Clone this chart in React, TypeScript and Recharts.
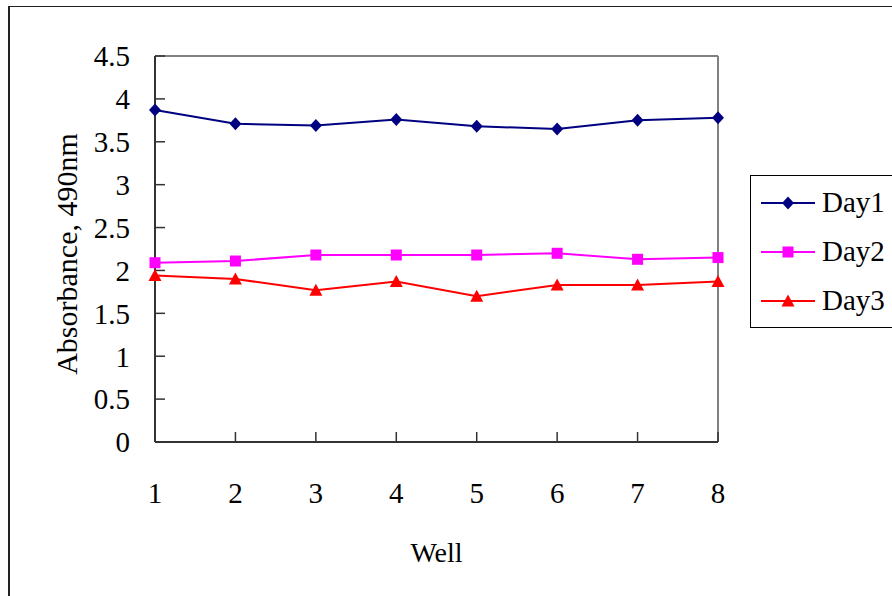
import { LineChart, Line, XAxis, YAxis, Legend, ReferenceLine, Label } from "recharts"

const wells = ["1", "2", "3", "4", "5", "6", "7", "8"]
const day1 = [3.87, 3.71, 3.69, 3.76, 3.68, 3.65, 3.75, 3.78]
const day2 = [2.09, 2.11, 2.18, 2.18, 2.18, 2.2, 2.13, 2.15]
const day3 = [1.94, 1.9, 1.77, 1.87, 1.7, 1.83, 1.83, 1.87]
const yTicks = [0, 0.5, 1, 1.5, 2, 2.5, 3, 3.5, 4, 4.5]

const FONT = '"Liberation Serif", "Times New Roman", serif'

const series = [
  { key: "day1", name: "Day1", color: "#000080", shape: "diamond" },
  { key: "day2", name: "Day2", color: "#ff00ff", shape: "square" },
  { key: "day3", name: "Day3", color: "#ff0000", shape: "triangle" },
]

const data = wells.map((well, i) => ({ well, day1: day1[i], day2: day2[i], day3: day3[i] }))

function Marker({ cx, cy, shape, color }: { cx?: number; cy?: number; shape: string; color: string }) {
  if (cx == null || cy == null) return null
  if (shape === "diamond") {
    return <polygon points={`${cx},${cy - 6.5} ${cx + 6},${cy} ${cx},${cy + 6.5} ${cx - 6},${cy}`} fill={color} />
  }
  if (shape === "square") {
    return <rect x={cx - 5.5} y={cy - 5.5} width={11} height={11} fill={color} />
  }
  return <polygon points={`${cx},${cy - 6.5} ${cx + 6.5},${cy + 5.5} ${cx - 6.5},${cy + 5.5}`} fill={color} />
}

function LegendBox() {
  return (
    <div style={{ border: "1.5px solid #000", padding: "2px 0 2px 10px", background: "#fff" }}>
      {series.map((s) => (
        <div key={s.key} style={{ display: "flex", alignItems: "center", height: 49 }}>
          <svg width={54} height={20} style={{ display: "block" }}>
            <line x1={0} y1={10} x2={54} y2={10} stroke={s.color} strokeWidth={2} />
            <Marker cx={27} cy={10} shape={s.shape} color={s.color} />
          </svg>
          <span style={{ marginLeft: 7, fontSize: 29, fontFamily: FONT, color: "#000", lineHeight: 1 }}>{s.name}</span>
        </div>
      ))}
    </div>
  )
}

export default function App() {
  return (
    <div style={{ position: "absolute", left: 0, top: 0, width: 892, height: 596, overflow: "hidden", background: "#fff" }}>
      <div
        style={{
          position: "absolute",
          left: 8,
          top: 6,
          width: 900,
          height: 600,
          borderLeft: "2px solid #222",
          borderTop: "1.5px solid #222",
        }}
      />
      <div style={{ position: "absolute", left: 0, top: 0 }}>
        <LineChart width={892} height={596} data={data} margin={{ top: 56, right: 174, left: 0, bottom: 0 }}>
          <ReferenceLine y={4.5} stroke="#808080" strokeWidth={2} />
          <ReferenceLine x="8" stroke="#808080" strokeWidth={2} />
          <XAxis
            dataKey="well"
            height={154}
            interval={0}
            tickSize={-10}
            tickMargin={50}
            axisLine={{ stroke: "#333", strokeWidth: 2 }}
            tickLine={{ stroke: "#333", strokeWidth: 1.5 }}
            tick={{ fill: "#000", fontSize: 29, fontFamily: FONT }}
          >
            <Label
              content={({ viewBox }: any) => (
                <text x={viewBox.x + viewBox.width / 2} y={viewBox.y + 120} textAnchor="middle" fontSize={28} fontFamily={FONT} fill="#000">
                  Well
                </text>
              )}
            />
          </XAxis>
          <YAxis
            width={155}
            domain={[0, 4.5]}
            ticks={yTicks}
            interval={0}
            tickSize={-10}
            tickMargin={35}
            axisLine={{ stroke: "#333", strokeWidth: 2 }}
            tickLine={{ stroke: "#333", strokeWidth: 1.5 }}
            tick={{ fill: "#000", fontSize: 29, fontFamily: FONT }}
          >
            <Label
              content={({ viewBox }: any) => {
                const x = viewBox.x + 77
                const y = viewBox.y + viewBox.height / 2 + 5
                return (
                  <text x={x} y={y} transform={`rotate(-90 ${x} ${y})`} textAnchor="middle" fontSize={30} fontFamily={FONT} fill="#000">
                    Absorbance, 490nm
                  </text>
                )
              }}
            />
          </YAxis>
          <Legend
            layout="vertical"
            align="center"
            verticalAlign="middle"
            wrapperStyle={{ left: 750, top: 175, width: 200, height: "auto" }}
            content={() => <LegendBox />}
          />
          {series.map((s) => (
            <Line
              key={s.key}
              type="linear"
              dataKey={s.key}
              name={s.name}
              stroke={s.color}
              strokeWidth={2}
              isAnimationActive={false}
              activeDot={false}
              dot={(p: any) => <Marker key={`${s.key}-${p.index}`} cx={p.cx} cy={p.cy} shape={s.shape} color={s.color} />}
            />
          ))}
        </LineChart>
      </div>
    </div>
  )
}
